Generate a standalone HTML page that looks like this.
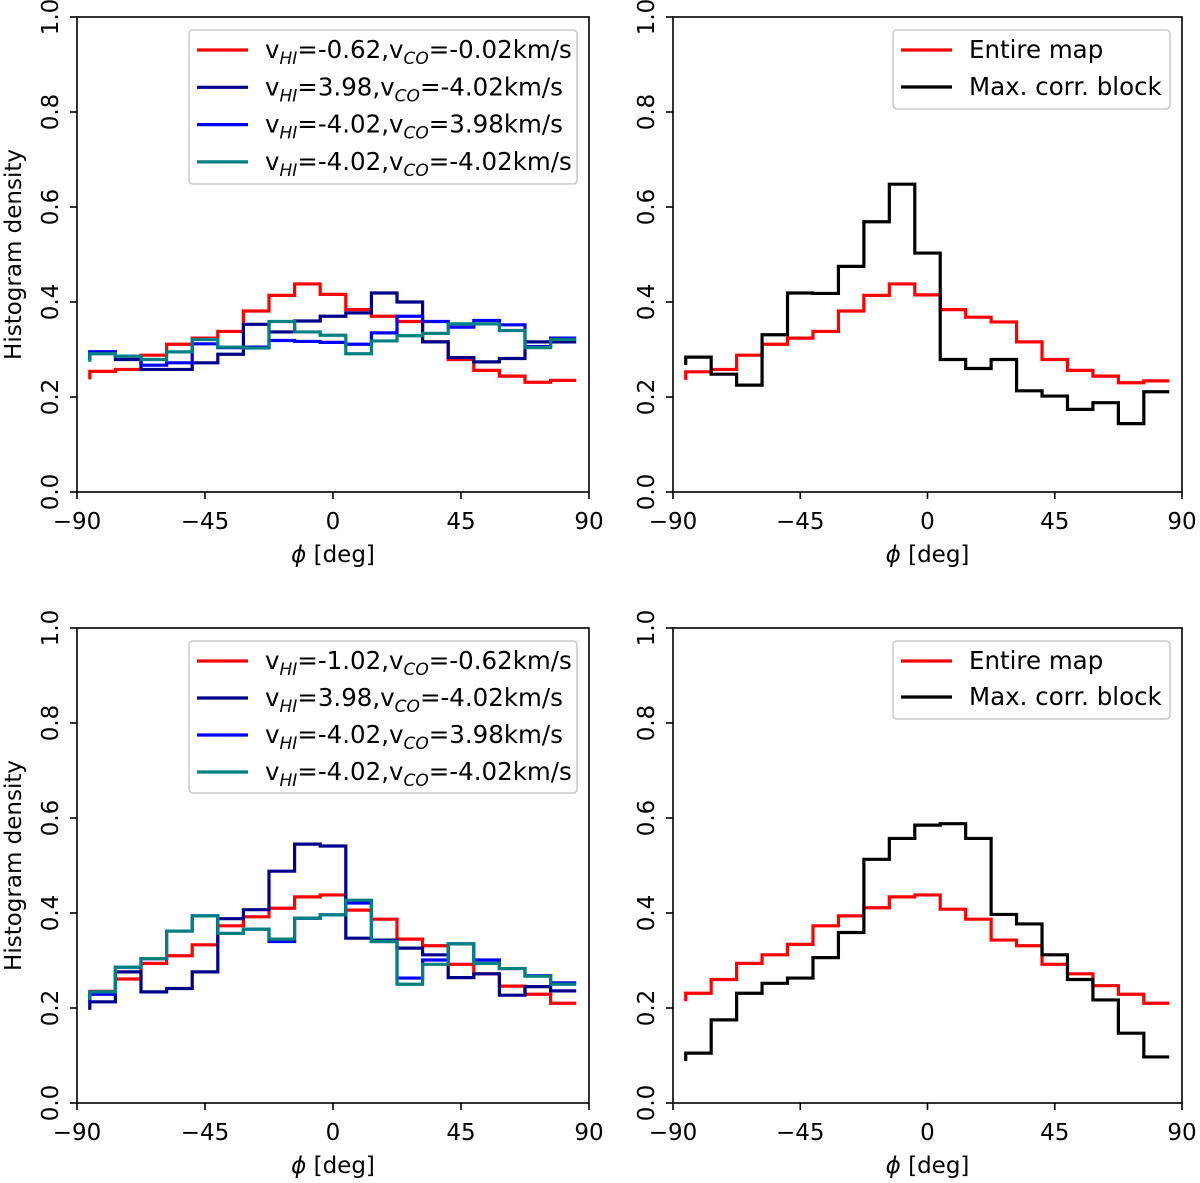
<!DOCTYPE html>
<html><head><meta charset="utf-8">
<style>
html,body{margin:0;padding:0;background:#fff;}
svg{display:block;font-family:"DejaVu Sans","Liberation Sans",sans-serif;}
</style></head>
<body>
<svg id="fig" width="1200" height="1183" viewBox="0 0 1200 1183" xmlns="http://www.w3.org/2000/svg"></svg>
<script>
// ---- data ----
const binStart = -85.5;
const binWidth = 9;
const xTicks = [-90, -45, 0, 45, 90];
const xTickLabels = ["\u221290", "\u221245", "0", "45", "90"];
const yTicks = [0, 0.2, 0.4, 0.6, 0.8, 1.0];
const yTickLabels = ["0.0", "0.2", "0.4", "0.6", "0.8", "1.0"];

const tlRed  = [.254,.258,.288,.311,.324,.338,.381,.414,.438,.416,.384,.370,.359,.316,.279,.256,.244,.231,.235];
const tlNavy = [.295,.279,.258,.258,.272,.290,.353,.337,.360,.370,.377,.419,.400,.316,.283,.274,.281,.316,.316];
const tlBlue = [.295,.286,.267,.272,.312,.304,.305,.319,.317,.315,.311,.335,.370,.359,.347,.361,.352,.306,.324];
const tlTeal = [.291,.286,.279,.295,.321,.305,.303,.359,.337,.330,.291,.318,.329,.334,.354,.354,.340,.304,.321];

const trRed   = [.253,.258,.288,.311,.324,.338,.381,.414,.438,.415,.384,.368,.358,.316,.279,.256,.244,.230,.234];
const trBlack = [.284,.248,.225,.331,.419,.418,.475,.569,.648,.503,.279,.260,.279,.213,.202,.174,.188,.144,.211];

const blRed  = [.235,.261,.294,.310,.333,.373,.392,.410,.434,.438,.406,.387,.345,.331,.292,.272,.246,.229,.210];
const blNavy = [.213,.276,.234,.241,.276,.388,.407,.488,.545,.541,.347,.343,.326,.312,.264,.272,.227,.245,.236];
const blBlue = [.229,.286,.304,.362,.394,.357,.366,.340,.389,.396,.421,.340,.263,.301,.335,.301,.283,.268,.253];
const blTeal = [.234,.286,.304,.362,.394,.357,.366,.345,.389,.396,.427,.340,.250,.292,.335,.294,.283,.267,.250];

const brRed   = [.231,.260,.294,.312,.334,.373,.394,.411,.434,.438,.408,.387,.343,.331,.292,.272,.247,.229,.210];
const brBlack = [.105,.175,.231,.252,.263,.306,.359,.513,.557,.585,.588,.557,.397,.377,.312,.260,.217,.147,.097];

const NS = "http://www.w3.org/2000/svg";
const svg = document.getElementById("fig");
function mk(tag, attrs, parent){
  const e = document.createElementNS(NS, tag);
  for (const k in attrs) e.setAttribute(k, attrs[k]);
  (parent||svg).appendChild(e);
  return e;
}

function panel(name, L, R, T, B, series, legend, showYLabel){
  const g = mk("g", {});
  
  
  const sx = v => L + (v + 90) / 180 * (R - L);
  const sy = v => B - v * (B - T);
  series.forEach(s => {
    let d = "";
    s.vals.forEach((v, i) => {
      const x0 = sx(binStart + i * binWidth), x1 = sx(binStart + (i + 1) * binWidth);
      d += (i === 0 ? "M" + x0 + "," + (sy(v) + 8) + " L" + x0 + "," + sy(v) : " L" + x0 + "," + sy(v)) + " L" + x1 + "," + sy(v);
    });
    const p = mk("path", {d: d, fill: "none", stroke: s.color, "stroke-width": 3.2, "stroke-linejoin": "miter"}, g);
    
    
  });
  const fr = mk("rect", {x: L, y: T, width: R - L, height: B - T, fill: "none", stroke: "#000", "stroke-width": 1.6}, g);
  
  
  xTicks.forEach((t, i) => {
    const x = sx(t);
    mk("line", {x1: x, x2: x, y1: B, y2: B + 7, stroke: "#000", "stroke-width": 1.6}, g);
    const tx = mk("text", {x: x, y: B + 37, "text-anchor": "middle", "font-size": 23}, g);
    tx.textContent = xTickLabels[i];
    
    
  });
  yTicks.forEach((t, i) => {
    const y = sy(t);
    mk("line", {x1: L - 7, x2: L, y1: y, y2: y, stroke: "#000", "stroke-width": 1.6}, g);
    const tx = mk("text", {x: 0, y: 0, "text-anchor": "middle", "font-size": 23,
      transform: "translate(" + (L - 19) + "," + y + ") rotate(-90)"}, g);
    tx.textContent = yTickLabels[i];
    
    
  });
  const xt = mk("text", {x: (L + R) / 2, y: B + 70, "text-anchor": "middle", "font-size": 23}, g);
  xt.innerHTML = '<tspan font-style="italic">\u03d5</tspan> [deg]';
  
  
  if (showYLabel){
    const yt = mk("text", {x: 0, y: 0, "text-anchor": "middle", "font-size": 23,
      transform: "translate(21," + ((T + B) / 2) + ") rotate(-90)"}, g);
    yt.textContent = "Histogram density";
    
    
  }
  const lg = mk("g", {}, g);
  
  
  mk("rect", {x: legend.x, y: T + 13, width: legend.w, height: legend.h, rx: 4, fill: "#fff", "fill-opacity": 0.8, stroke: "#c8c8c8", "stroke-width": 1.5}, lg);
  legend.items.forEach((it, i) => {
    const y = T + 33 + i * legend.dy;
    const ln = mk("line", {x1: legend.x + 8, x2: legend.x + 59, y1: y, y2: y, stroke: it.color, "stroke-width": 3.2}, lg);
    
    
    const tx = mk("text", {x: legend.x + 76, y: y + 8, "font-size": 24.5}, lg);
    tx.innerHTML = it.label;
    
    
  });
}

function vlab(hi, co){
  return 'v<tspan font-size="17" font-style="italic" dy="6">HI</tspan><tspan dy="-6">=' + hi + ',v</tspan><tspan font-size="17" font-style="italic" dy="6">CO</tspan><tspan dy="-6">=' + co + 'km/s</tspan>';
}

panel("panel-top-left", 77, 589, 17, 492, [
  {name: "series-red", color: "#ff0000", vals: tlRed},
  {name: "series-navy", color: "#00008b", vals: tlNavy},
  {name: "series-blue", color: "#0000ff", vals: tlBlue},
  {name: "series-teal", color: "#008080", vals: tlTeal}
], {x: 189, w: 388, h: 154, dy: 37.3, items: [
  {color: "#ff0000", label: vlab("-0.62", "-0.02")},
  {color: "#00008b", label: vlab("3.98", "-4.02")},
  {color: "#0000ff", label: vlab("-4.02", "3.98")},
  {color: "#008080", label: vlab("-4.02", "-4.02")}
]}, true);

panel("panel-top-right", 673, 1182, 17, 492, [
  {name: "series-entire-map", color: "#ff0000", vals: trRed},
  {name: "series-max-corr-block", color: "#000000", vals: trBlack}
], {x: 893, w: 277, h: 79, dy: 37, items: [
  {color: "#ff0000", label: "Entire map"},
  {color: "#000000", label: "Max. corr. block"}
]}, false);

panel("panel-bottom-left", 77, 589, 628, 1103, [
  {name: "series-red", color: "#ff0000", vals: blRed},
  {name: "series-navy", color: "#00008b", vals: blNavy},
  {name: "series-blue", color: "#0000ff", vals: blBlue},
  {name: "series-teal", color: "#008080", vals: blTeal}
], {x: 189, w: 388, h: 152, dy: 37, items: [
  {color: "#ff0000", label: vlab("-1.02", "-0.62")},
  {color: "#00008b", label: vlab("3.98", "-4.02")},
  {color: "#0000ff", label: vlab("-4.02", "3.98")},
  {color: "#008080", label: vlab("-4.02", "-4.02")}
]}, true);

panel("panel-bottom-right", 673, 1182, 628, 1103, [
  {name: "series-entire-map", color: "#ff0000", vals: brRed},
  {name: "series-max-corr-block", color: "#000000", vals: brBlack}
], {x: 893, w: 277, h: 78, dy: 36, items: [
  {color: "#ff0000", label: "Entire map"},
  {color: "#000000", label: "Max. corr. block"}
]}, false);
</script>
</body></html>
